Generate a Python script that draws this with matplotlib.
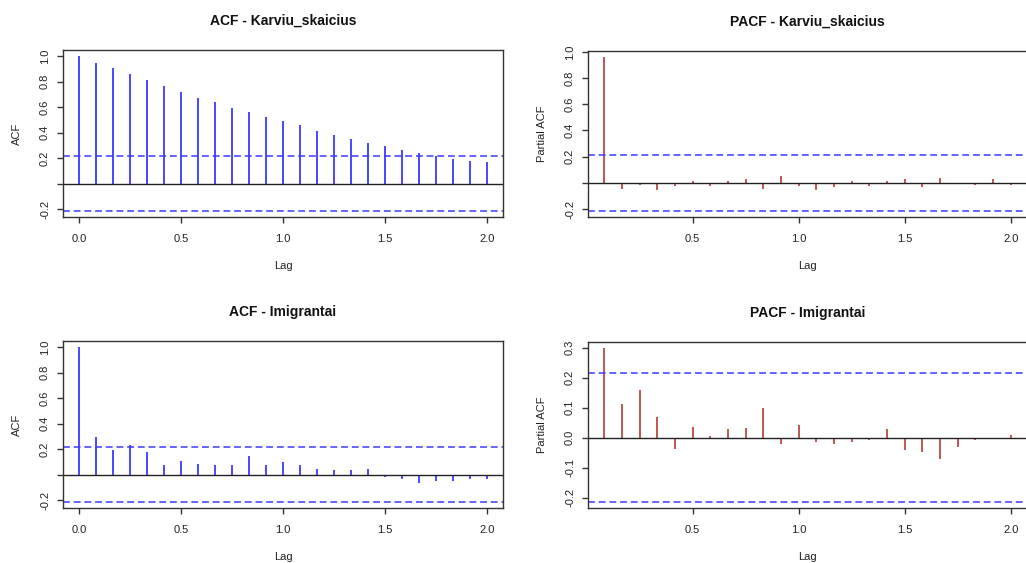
import numpy as np
import matplotlib
matplotlib.use("Agg")
import matplotlib.pyplot as plt

plt.rcParams['font.family'] = ['Liberation Sans', 'DejaVu Sans']

# monthly series -> lags in years
acf_lags = np.arange(0, 25) / 12
pacf_lags = np.arange(1, 25) / 12
conf = 0.214

acf_karviu = [1.000, 0.950, 0.905, 0.858, 0.813, 0.763, 0.721, 0.668, 0.637,
              0.592, 0.558, 0.526, 0.489, 0.458, 0.413, 0.379, 0.347, 0.321,
              0.295, 0.261, 0.242, 0.213, 0.189, 0.174, 0.166]
pacf_karviu = [0.960, -0.047, -0.013, -0.054, -0.023, 0.016, -0.023, 0.016,
               0.026, -0.047, 0.049, -0.023, -0.054, -0.031, 0.016, -0.023,
               0.016, 0.026, -0.031, 0.034, 0.002, -0.015, 0.031, -0.015]
acf_imigr = [1.000, 0.295, 0.195, 0.230, 0.177, 0.074, 0.103, 0.084, 0.074,
             0.074, 0.142, 0.074, 0.100, 0.074, 0.047, 0.032, 0.032, 0.042,
             -0.016, -0.037, -0.063, -0.053, -0.047, -0.037, -0.032]
pacf_imigr = [0.298, 0.113, 0.157, 0.068, -0.039, 0.036, 0.007, 0.028, 0.031,
              0.100, -0.020, 0.042, -0.013, -0.020, -0.013, -0.009, 0.028,
              -0.042, -0.049, -0.071, -0.031, -0.009, -0.002, 0.009]

W, H = 1026, 563
fig = plt.figure(figsize=(W / 100, H / 100), dpi=100)


def r_range(lo, hi):
    # R pads plot ranges by 4% on each side
    pad = (hi - lo) * 0.04
    return lo - pad, hi + pad


def panel(rect, lags, vals, color, title, ylabel, yticks, ylabels, xticks):
    ax = fig.add_axes(rect)
    vals = np.asarray(vals)
    ax.vlines(lags, 0, vals, color=color, lw=1.2)
    ax.axhline(0, color='#222222', lw=1.0)
    for c in (conf, -conf):
        ax.axhline(c, color='#3a3aff', lw=1.1, ls=(0, (4.5, 2.5)))
    ax.set_xlim(*r_range(lags.min(), lags.max()))
    ax.set_ylim(*r_range(min(-conf, vals.min()), max(conf, vals.max())))
    ax.set_xticks(xticks)
    ax.set_xticklabels(['%.1f' % t for t in xticks])
    ax.set_yticks(yticks)
    ax.set_yticklabels(ylabels, rotation=90, va='center')
    for s in ('top', 'right', 'left', 'bottom'):
        ax.spines[s].set_color('#333333')
        ax.spines[s].set_linewidth(1.0)
    ax.tick_params(direction='out', length=4.3, width=1.0, color='#333333',
                   labelsize=8, labelcolor='#222222')
    ax.tick_params(axis='x', pad=8)
    ax.tick_params(axis='y', pad=5)
    ax.set_title(title, fontsize=10, fontweight='bold', pad=18, color='#111111')
    ax.set_xlabel('Lag', fontsize=8, labelpad=12, color='#222222')
    ax.set_ylabel(ylabel, fontsize=8, labelpad=13, color='#222222')
    return ax


def px_rect(left, top, right, bottom):
    return [left / W, 1 - bottom / H, (right - left) / W, (bottom - top) / H]


acf_yt = [-0.2, 0.0, 0.2, 0.4, 0.6, 0.8, 1.0]
acf_yl = ['-0.2', '', '0.2', '0.4', '0.6', '0.8', '1.0']
acf_xt = [0.0, 0.5, 1.0, 1.5, 2.0]
pacf_xt = [0.5, 1.0, 1.5, 2.0]

panel(px_rect(63, 50, 503, 217), acf_lags, acf_karviu, '#2a2aff',
      'ACF - Karviu_skaicius', 'ACF', acf_yt, acf_yl, acf_xt)
panel(px_rect(588, 51, 1027, 217), pacf_lags, pacf_karviu, '#b83a3a',
      'PACF - Karviu_skaicius', 'Partial ACF', acf_yt, acf_yl, pacf_xt)
panel(px_rect(63, 341, 503, 508), acf_lags, acf_imigr, '#2a2aff',
      'ACF - Imigrantai', 'ACF', acf_yt, acf_yl, acf_xt)
br_yt = [-0.2, -0.1, 0.0, 0.1, 0.2, 0.3]
panel(px_rect(588, 342, 1027, 508), pacf_lags, pacf_imigr, '#b83a3a',
      'PACF - Imigrantai', 'Partial ACF', br_yt, ['%.1f' % t for t in br_yt],
      pacf_xt)

fig.savefig('out.png', dpi=100)
